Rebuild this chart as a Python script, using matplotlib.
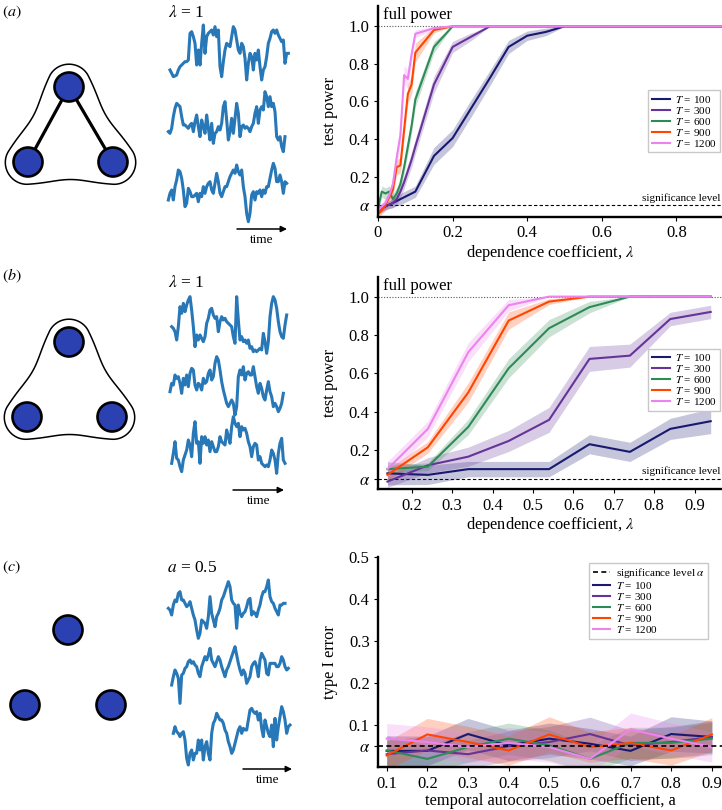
import numpy as np
import matplotlib
matplotlib.use('Agg')
import matplotlib.pyplot as plt
from matplotlib.patches import Circle
import matplotlib.transforms as mtrans

plt.rcParams['font.family'] = ['Liberation Serif', 'DejaVu Serif']
plt.rcParams['mathtext.fontset'] = 'stix'

# ---------------- data ----------------
T_labels = ['100', '300', '600', '900', '1200']
T_colors = ['midnightblue', 'rebeccapurple', 'seagreen', 'orangered', 'violet']
alpha_level = 0.05

# panel (a): hyperedge + pairwise edges
x_a = [0, 0.01, 0.02, 0.03, 0.04, 0.05, 0.06, 0.07, 0.08, 0.09, 0.1,
       0.15, 0.2, 0.25, 0.3, 0.35, 0.4, 0.45, 0.5, 0.55, 0.6, 0.65, 0.7,
       0.75, 0.8, 0.85, 0.9, 0.95, 1.0]
pow_a_100 = [0.025, 0.035, 0.045, 0.05, 0.06, 0.07, 0.08, 0.09, 0.10, 0.11, 0.12,
             0.31, 0.405, 0.565, 0.725, 0.89, 0.95, 0.97, 1.0,
             1, 1, 1, 1, 1, 1, 1, 1, 1, 1]
pow_a_300 = [0.02, 0.03, 0.04, 0.05, 0.06, 0.08, 0.12, 0.17, 0.23, 0.29, 0.36,
             0.69, 0.89, 0.945, 1.0,
             1, 1, 1, 1, 1, 1, 1, 1, 1, 1, 1, 1, 1, 1]
pow_a_600 = [0.03, 0.12, 0.11, 0.12, 0.08, 0.11, 0.16, 0.25, 0.36, 0.47, 0.61,
             0.89, 1.0,
             1, 1, 1, 1, 1, 1, 1, 1, 1, 1, 1, 1, 1, 1, 1, 1]
pow_a_900 = [0.0, 0.02, 0.05, 0.09, 0.13, 0.25, 0.26, 0.45, 0.64, 0.69, 0.86,
             0.98, 1.0,
             1, 1, 1, 1, 1, 1, 1, 1, 1, 1, 1, 1, 1, 1, 1, 1]
pow_a_1200 = [0.02, 0.04, 0.06, 0.10, 0.16, 0.30, 0.42, 0.74, 0.72, 0.85, 0.96,
              0.99, 1.0,
              1, 1, 1, 1, 1, 1, 1, 1, 1, 1, 1, 1, 1, 1, 1, 1]
err_a_100 = [0.02, 0.02, 0.02, 0.02, 0.025, 0.025, 0.03, 0.03, 0.03, 0.03, 0.03,
             0.045, 0.045, 0.045, 0.04, 0.035, 0.025, 0.02, 0.0,
             0, 0, 0, 0, 0, 0, 0, 0, 0, 0]
err_a_300 = [0.02, 0.02, 0.02, 0.02, 0.025, 0.03, 0.03, 0.035, 0.035, 0.04, 0.04,
             0.045, 0.03, 0.02, 0.0,
             0, 0, 0, 0, 0, 0, 0, 0, 0, 0, 0, 0, 0, 0]
err_a_600 = [0.02, 0.03, 0.03, 0.03, 0.03, 0.03, 0.03, 0.035, 0.04, 0.04, 0.04,
             0.03, 0.0,
             0, 0, 0, 0, 0, 0, 0, 0, 0, 0, 0, 0, 0, 0, 0, 0]
err_a_900 = [0.02, 0.02, 0.03, 0.03, 0.03, 0.04, 0.04, 0.05, 0.05, 0.05, 0.05,
             0.015, 0.0,
             0, 0, 0, 0, 0, 0, 0, 0, 0, 0, 0, 0, 0, 0, 0, 0]
err_a_1200 = [0.02, 0.02, 0.03, 0.03, 0.04, 0.05, 0.05, 0.05, 0.05, 0.04, 0.02,
              0.01, 0.0,
              0, 0, 0, 0, 0, 0, 0, 0, 0, 0, 0, 0, 0, 0, 0, 0]

# panel (b): hyperedge only
x_b = [0.14, 0.24, 0.34, 0.44, 0.54, 0.64, 0.74, 0.84, 0.94]
pow_b_100 = [0.078, 0.07, 0.10, 0.10, 0.10, 0.23, 0.19, 0.31, 0.35]
pow_b_300 = [0.035, 0.12, 0.165, 0.247, 0.357, 0.675, 0.692, 0.883, 0.92]
pow_b_600 = [0.10, 0.113, 0.32, 0.626, 0.835, 0.945, 1.0, 1.0, 1.0]
pow_b_900 = [0.07, 0.214, 0.50, 0.875, 0.974, 1.0, 1.0, 1.0, 1.0]
pow_b_1200 = [0.10, 0.31, 0.71, 0.955, 1.0, 1.0, 1.0, 1.0, 1.0]
err_b_100 = [0.06, 0.05, 0.04, 0.04, 0.04, 0.05, 0.05, 0.055, 0.065]
err_b_300 = [0.03, 0.04, 0.05, 0.055, 0.065, 0.065, 0.06, 0.035, 0.035]
err_b_600 = [0.02, 0.02, 0.04, 0.05, 0.045, 0.03, 0.0, 0.0, 0.0]
err_b_900 = [0.03, 0.03, 0.05, 0.045, 0.015, 0.0, 0.0, 0.0, 0.0]
err_b_1200 = [0.04, 0.04, 0.05, 0.03, 0.0, 0.0, 0.0, 0.0, 0.0]

# panel (c): independent nodes, type I error
x_c = [0.1, 0.2, 0.3, 0.4, 0.5, 0.6, 0.7, 0.8, 0.9]
err1_c_100 = [0.039, 0.039, 0.079, 0.052, 0.068, 0.056, 0.039, 0.079, 0.072]
err1_c_300 = [0.031, 0.040, 0.031, 0.050, 0.060, 0.079, 0.052, 0.060, 0.072]
err1_c_600 = [0.040, 0.020, 0.048, 0.068, 0.052, 0.020, 0.058, 0.058, 0.068]
err1_c_900 = [0.028, 0.078, 0.060, 0.040, 0.078, 0.048, 0.058, 0.040, 0.078]
err1_c_1200 = [0.068, 0.060, 0.048, 0.058, 0.048, 0.020, 0.090, 0.068, 0.048]
band_c_100 = [0.036, 0.035, 0.037, 0.036, 0.037, 0.036, 0.035, 0.041, 0.038]
band_c_300 = [0.033, 0.035, 0.033, 0.036, 0.037, 0.040, 0.036, 0.037, 0.038]
band_c_600 = [0.035, 0.032, 0.036, 0.037, 0.036, 0.032, 0.037, 0.037, 0.038]
band_c_900 = [0.033, 0.038, 0.037, 0.035, 0.042, 0.036, 0.037, 0.035, 0.040]
band_c_1200 = [0.036, 0.036, 0.036, 0.037, 0.036, 0.032, 0.039, 0.037, 0.036]

# example time series (screen-style readings: larger = lower)
ts_a1 = [210, 220, 230, 228, 225, 210, 200, 195, 190, 185, 185, 180, 100, 95, 110,
         130, 195, 150, 195, 130, 75, 160, 110, 100, 95, 90, 105, 80, 110, 90, 200,
         230, 185, 150, 130, 135, 140, 110, 80, 90, 120, 150, 160, 130, 140, 175,
         240, 190, 160, 170, 210, 160, 180, 150, 200, 240, 210, 200, 170, 130, 115,
         95, 90, 100, 90, 105, 115, 125, 120, 190, 160, 160]
ts_a2 = [395, 400, 385, 350, 325, 310, 315, 320, 350, 375, 375, 380, 385, 375, 370,
         395, 365, 345, 380, 410, 360, 380, 400, 345, 385, 420, 370, 430, 400, 395,
         380, 390, 370, 320, 305, 360, 420, 395, 355, 400, 355, 310, 340, 410, 380,
         375, 385, 380, 385, 395, 380, 370, 340, 320, 370, 330, 320, 330, 275, 290,
         320, 290, 320, 310, 335, 410, 420, 410, 440, 455, 410]
ts_a3 = [600, 580, 570, 600, 560, 540, 510, 515, 535, 570, 620, 610, 565, 575, 590,
         590, 585, 580, 605, 580, 590, 560, 580, 560, 550, 545, 570, 580, 550, 520,
         545, 580, 590, 575, 560, 560, 545, 530, 520, 510, 520, 495, 515, 525, 510,
         560, 590, 640, 665, 640, 585, 575, 600, 575, 580, 570, 590, 570, 580, 560,
         560, 535, 510, 490, 505, 545, 545, 525, 545, 580, 545, 550]
ts_b1 = [200, 205, 215, 240, 200, 140, 160, 130, 155, 135, 120, 110, 150, 200, 260,
         225, 240, 225, 235, 245, 230, 190, 175, 150, 145, 165, 175, 170, 215, 185,
         170, 180, 175, 185, 190, 195, 200, 230, 250, 110, 180, 240, 230, 245, 240,
         250, 240, 265, 260, 275, 270, 275, 270, 265, 270, 220, 245, 280, 245, 170,
         130, 110, 120, 145, 185, 215, 230, 235, 195, 165]
ts_b2 = [395, 370, 375, 345, 355, 350, 370, 400, 355, 375, 345, 380, 340, 325, 330,
         375, 390, 370, 375, 390, 355, 370, 365, 340, 330, 360, 350, 310, 290, 300,
         330, 365, 390, 410, 430, 440, 430, 420, 430, 465, 440, 350, 330, 345, 320,
         360, 340, 335, 345, 345, 320, 350, 380, 400, 370, 385, 410, 420, 390, 365,
         395, 410, 440, 430, 440, 455, 445, 430, 400]
ts_b3 = [610, 580, 545, 595, 600, 620, 635, 600, 585, 570, 540, 555, 590, 520, 485,
         550, 545, 610, 530, 550, 530, 555, 540, 575, 545, 560, 575, 575, 560, 530,
         545, 550, 555, 510, 530, 550, 500, 470, 490, 500, 490, 530, 500, 510, 505,
         520, 545, 560, 590, 560, 550, 555, 600, 590, 610, 615, 620, 615, 620, 600,
         570, 580, 600, 640, 580, 550, 535, 600, 610]
ts_c1 = [265, 270, 285, 255, 240, 245, 220, 215, 240, 240, 250, 260, 255, 245, 265,
         285, 300, 330, 355, 340, 300, 305, 310, 325, 290, 230, 280, 300, 320, 290,
         280, 265, 240, 230, 215, 200, 185, 200, 240, 250, 255, 325, 255, 280, 290,
         280, 275, 260, 240, 235, 285, 275, 280, 290, 270, 255, 230, 215, 215, 200,
         180, 230, 245, 250, 265, 275, 285, 255, 255, 250, 250]
ts_c2 = [495, 470, 450, 460, 475, 550, 465, 460, 445, 440, 425, 420, 430, 425, 435,
         440, 460, 470, 440, 425, 410, 420, 405, 385, 420, 430, 440, 425, 410, 420,
         440, 455, 470, 450, 440, 425, 410, 395, 380, 405, 430, 450, 465, 450, 460,
         490, 480, 470, 440, 430, 425, 440, 470, 420, 400, 410, 420, 460, 465, 430,
         430, 430, 430, 440, 440, 430, 410, 420, 440, 450, 445]
ts_c3 = [640, 620, 635, 640, 650, 640, 635, 660, 715, 735, 700, 690, 720, 700, 700,
         660, 690, 660, 720, 680, 665, 700, 720, 640, 610, 600, 580, 590, 600, 600,
         610, 630, 640, 665, 680, 700, 690, 670, 650, 630, 620, 640, 625, 630, 630,
         600, 570, 565, 575, 580, 575, 600, 580, 625, 650, 600, 620, 640, 650, 615,
         680, 595, 660, 620, 590, 560, 575, 600, 640, 620, 615]

# ---------------- figure ----------------
W, H = 722, 810
fig = plt.figure(figsize=(W / 100, H / 100), dpi=100)


def rect(l, t, r, b):
    return [l / W, 1 - b / H, (r - l) / W, (b - t) / H]


ov = fig.add_axes([0, 0, 1, 1])
ov.set_xlim(0, W)
ov.set_ylim(H, 0)
ov.axis('off')

node_color = '#2b41b2'
ts_color = '#2878b8'


def seg_dist(gx, gy, a, b):
    ax_, ay_ = a
    bx_, by_ = b
    dx, dy = bx_ - ax_, by_ - ay_
    t = np.clip(((gx - ax_) * dx + (gy - ay_) * dy) / (dx * dx + dy * dy), 0, 1)
    return np.hypot(gx - (ax_ + t * dx), gy - (ay_ + t * dy))


def hull_outline(nodes, R=23.0, beta=7.0, tau=22.0):
    xs = [p[0] for p in nodes]
    ys = [p[1] for p in nodes]
    gx, gy = np.meshgrid(np.linspace(min(xs) - 45, max(xs) + 45, 500),
                         np.linspace(min(ys) - 45, max(ys) + 45, 500))
    pairs = [(0, 1), (1, 2), (2, 0)]
    d = np.minimum.reduce([seg_dist(gx, gy, nodes[i], nodes[j]) for i, j in pairs])
    # inside the triangle -> distance 0
    def side(p, a, b):
        return (b[0] - a[0]) * (p[1] - a[1]) - (b[1] - a[1]) * (p[0] - a[0])
    s = [side((gx, gy), nodes[i], nodes[j]) for i, j in pairs]
    inside = ((s[0] >= 0) & (s[1] >= 0) & (s[2] >= 0)) | ((s[0] <= 0) & (s[1] <= 0) & (s[2] <= 0))
    d = np.where(inside, 0.0, d)
    mids = [((nodes[i][0] + nodes[j][0]) / 2, (nodes[i][1] + nodes[j][1]) / 2) for i, j in pairs]
    w = sum(np.exp(-((gx - mx) ** 2 + (gy - my) ** 2) / (2 * tau ** 2)) for mx, my in mids)
    F = d + beta * w
    ov.contour(gx, gy, F, levels=[R], colors='k', linewidths=1.1)


def diagram(nodes, edges, hull, r=14.5):
    if hull:
        hull_outline(nodes)
    for i, j in edges:
        ov.plot([nodes[i][0], nodes[j][0]], [nodes[i][1], nodes[j][1]], color='k', lw=2.3,
                solid_capstyle='round', zorder=2)
    for (cx, cy) in nodes:
        ov.add_patch(Circle((cx, cy), r, fc=node_color, ec='k', lw=1.9, zorder=3))


diagram([(69, 87), (28, 162), (113, 162)], [(0, 1), (0, 2)], True)
diagram([(69, 342), (27, 417), (112, 417)], [], True)
diagram([(68, 630), (25, 705), (111, 705)], [], False)


def draw_ts(vals, ox, oy, start, scale=3.0, step=5.0):
    n = len(vals)
    l = ox + start / scale
    r = l + step * (n - 1) / scale
    t = oy + min(vals) / scale
    b = oy + max(vals) / scale
    ax = fig.add_axes(rect(l, t, r, b))
    ax.plot(np.arange(n), vals, color=ts_color, lw=2.2, solid_joinstyle='round', clip_on=False)
    ax.set_xlim(0, n - 1)
    ax.set_ylim(max(vals), min(vals))
    ax.axis('off')


draw_ts(ts_a1, 0, 0, 510)
draw_ts(ts_a2, 0, 0, 505)
draw_ts(ts_a3, 0, 0, 505)
draw_ts(ts_b1, 0, 260, 515)
draw_ts(ts_b2, 0, 260, 510)
draw_ts(ts_b3, 0, 260, 515)
draw_ts(ts_c1, 0, 520, 505)
draw_ts(ts_c2, 0, 520, 515)
draw_ts(ts_c3, 0, 520, 520)

# panel letters, parameters, time arrows
for (px, py, s) in [(2, 12, r'$(a)$'), (2, 276, r'$(b)$'), (2, 567, r'$(c)$')]:
    ov.text(px, py, s, fontsize=11.5, ha='left', va='center')
for (px, py, s) in [(168, 13, r'$\lambda$ = 1'), (168, 283, r'$\lambda$ = 1'), (167, 568, r'$a$ = 0.5')]:
    ov.text(px, py, s, fontsize=12.5, ha='left', va='center')
for (x0, x1, y) in [(237, 287, 229), (233, 284, 490), (243, 292, 769)]:
    ov.annotate('', xy=(x1, y), xytext=(x0, y),
                arrowprops=dict(arrowstyle='-|>', color='k', lw=1.1, mutation_scale=9,
                                shrinkA=0, shrinkB=0))
    ov.text((x0 + x1) / 2, y + 11, 'time', fontsize=9.5, ha='center', va='center')


def style_axes(ax):
    for s in ['top', 'right']:
        ax.spines[s].set_visible(False)
    for s in ['left', 'bottom']:
        ax.spines[s].set_linewidth(1.7)
        ax.spines[s].set_color('k')
    ax.tick_params(direction='out', length=3, width=0.8, labelsize=12, pad=3)
    ax.set_facecolor('none')


def curves(ax, x, ys, es):
    handles = []
    for y, e, c, lab in zip(ys, es, T_colors, T_labels):
        y = np.asarray(y, float)
        e = np.asarray(e, float)
        ax.fill_between(x, y - e, y + e, color=c, alpha=0.25, lw=0)
        h, = ax.plot(x, y, color=c, lw=1.5, label=r'$T$ = ' + lab)
        handles.append(h)
    return handles


def power_extras(ax):
    blend = mtrans.blended_transform_factory(ax.transAxes, ax.transData)
    ax.axhline(1.0, color='0.35', ls=(0, (1, 1.5)), lw=0.8, zorder=0)
    ax.axhline(alpha_level, color='k', ls=(0, (3, 2)), lw=0.8, zorder=0)
    ax.text(0.015, 1.015, 'full power', transform=blend, fontsize=12, ha='left', va='bottom')
    ax.text(0.995, alpha_level + 0.012, 'significance level', transform=blend,
            fontsize=8, ha='right', va='bottom')


leg_kw = dict(fontsize=8, labelspacing=0.0, borderpad=0.3, handlelength=1.6,
              handletextpad=0.5, borderaxespad=0, framealpha=1, edgecolor='#c8c8c8',
              fancybox=False)
lab_fs = 11.8

# (a)
axA = fig.add_axes(rect(378, 217 - 1.125 * 187.9, 722, 217))
style_axes(axA)
hA = curves(axA, x_a, [pow_a_100, pow_a_300, pow_a_600, pow_a_900, pow_a_1200],
            [err_a_100, err_a_300, err_a_600, err_a_900, err_a_1200])
power_extras(axA)
axA.set_xlim(0, 0.922)
axA.set_ylim(-0.015, 1.11)
axA.set_xticks([0, 0.2, 0.4, 0.6, 0.8])
axA.set_xticklabels(['0', '0.2', '0.4', '0.6', '0.8'])
axA.set_yticks([alpha_level, 0.2, 0.4, 0.6, 0.8, 1.0])
axA.set_yticklabels([r'$\alpha$', '0.2', '0.4', '0.6', '0.8', '1.0'])
axA.set_xlabel(r'dependence coefficient, $\lambda$', fontsize=lab_fs, labelpad=1)
axA.set_ylabel('test power', fontsize=lab_fs, labelpad=8)
axA.legend(handles=hA, loc='upper right', bbox_to_anchor=(0.995, 0.60), **leg_kw)

# (b)
axB = fig.add_axes(rect(378, 488.3 - 1.1 * 191.7, 722, 488.3 + 0.005 * 191.7))
style_axes(axB)
hB = curves(axB, x_b, [pow_b_100, pow_b_300, pow_b_600, pow_b_900, pow_b_1200],
            [err_b_100, err_b_300, err_b_600, err_b_900, err_b_1200])
power_extras(axB)
axB.set_xlim(0.1166, 0.968)
axB.set_ylim(-0.005, 1.1)
axB.set_xticks([0.2, 0.3, 0.4, 0.5, 0.6, 0.7, 0.8, 0.9])
axB.set_yticks([alpha_level, 0.2, 0.4, 0.6, 0.8, 1.0])
axB.set_yticklabels([r'$\alpha$', '0.2', '0.4', '0.6', '0.8', '1.0'])
axB.set_xlabel(r'dependence coefficient, $\lambda$', fontsize=lab_fs, labelpad=1)
axB.set_ylabel('test power', fontsize=lab_fs, labelpad=8)
axB.legend(handles=hB, loc='upper right', bbox_to_anchor=(0.995, 0.662), **leg_kw)

# (c)
axC = fig.add_axes(rect(378, 556.7, 722, 767.3))
style_axes(axC)
sig_h = axC.axhline(alpha_level, color='k', ls=(0, (3, 2)), lw=1.2, zorder=5,
                    label=r'significance level $\alpha$')
hC = curves(axC, x_c, [err1_c_100, err1_c_300, err1_c_600, err1_c_900, err1_c_1200],
            [band_c_100, band_c_300, band_c_600, band_c_900, band_c_1200])
axC.set_xlim(0.0786, 0.925)
axC.set_ylim(0, 0.5)
axC.set_xticks([0.1, 0.2, 0.3, 0.4, 0.5, 0.6, 0.7, 0.8, 0.9])
axC.set_yticks([alpha_level, 0.1, 0.2, 0.3, 0.4, 0.5])
axC.set_yticklabels([r'$\alpha$', '0.1', '0.2', '0.3', '0.4', '0.5'])
axC.set_xlabel('temporal autocorrelation coefficient, a', fontsize=lab_fs, labelpad=1)
axC.set_ylabel('type I error', fontsize=lab_fs, labelpad=8)
axC.legend(handles=[sig_h] + hC, loc='upper right', bbox_to_anchor=(0.96, 0.97), **leg_kw)

fig.savefig('out.png', dpi=100)
